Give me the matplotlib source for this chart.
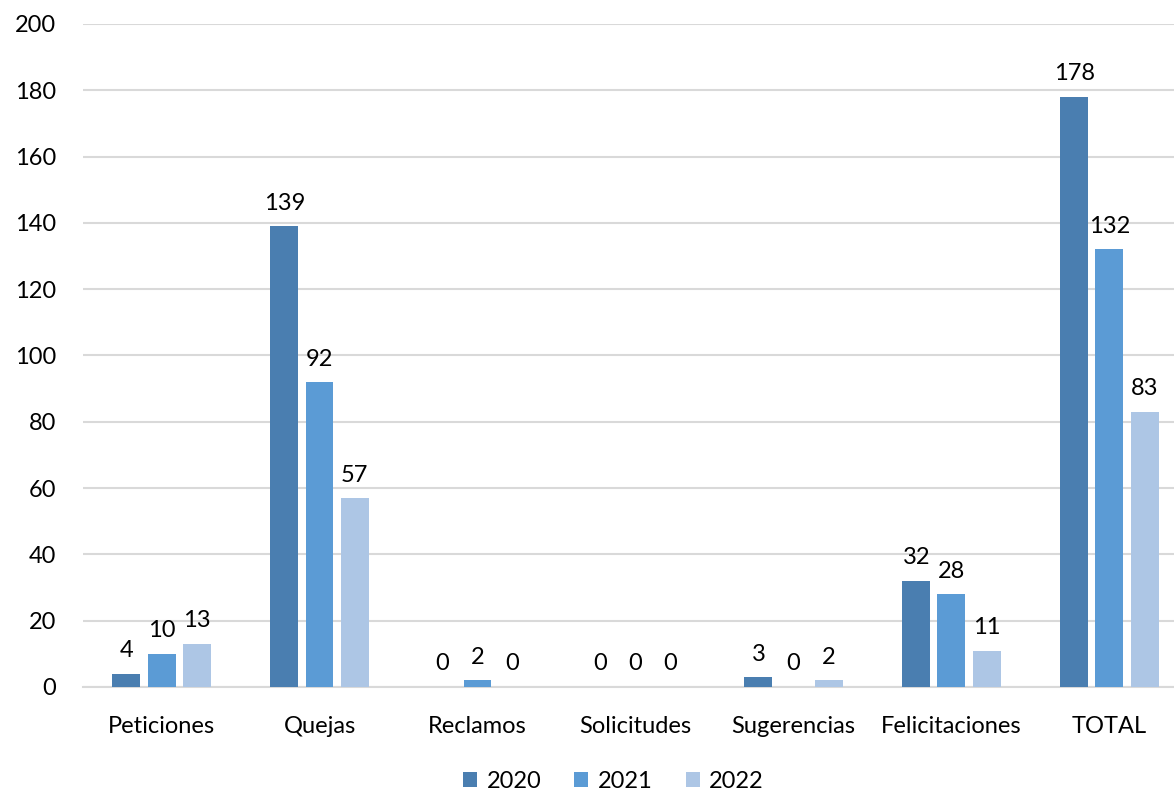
import numpy as np
import matplotlib.pyplot as plt

plt.rcParams['font.family'] = ['Lato', 'DejaVu Sans']

categorias = ['Peticiones', 'Quejas', 'Reclamos', 'Solicitudes', 'Sugerencias', 'Felicitaciones', 'TOTAL']
anios = ['2020', '2021', '2022']
v2020 = [4, 139, 0, 0, 3, 32, 178]
v2021 = [10, 92, 2, 0, 0, 28, 132]
v2022 = [13, 57, 0, 0, 2, 11, 83]
colores = ['#4A7EB0', '#5B9BD5', '#ADC6E5']

fig = plt.figure(figsize=(11.74, 7.92), dpi=100)
# el area de graficos sale un poco por la derecha, como en la imagen original
ax = fig.add_axes([0.0703, 0.1326, 0.942, 0.8371])

x = np.arange(len(categorias))
ancho = 0.177
paso = 0.222
for i, (serie, nombre) in enumerate(zip([v2020, v2021, v2022], anios)):
    pos = x + (i - 1) * paso
    ax.bar(pos, serie, width=ancho, color=colores[i], label=nombre, zorder=3)
    for p, v in zip(pos, serie):
        ax.annotate(str(v), (p, v), xytext=(0, 9), textcoords='offset points',
                    ha='center', va='bottom', fontsize=17)

ax.set_xlim(-0.5, len(categorias) - 0.5)
ax.set_ylim(0, 200)
ax.set_yticks(range(0, 201, 20))
ax.set_xticks(x)
ax.set_xticklabels(categorias)
ax.tick_params(axis='both', length=0, labelsize=17)
ax.tick_params(axis='x', pad=21)
ax.tick_params(axis='y', pad=19)
ax.grid(axis='y', color='#D9D9D9', linewidth=1.5, zorder=0)
for s in ['top', 'right', 'left']:
    ax.spines[s].set_visible(False)
ax.spines['bottom'].set_color('#D9D9D9')
ax.spines['bottom'].set_linewidth(1.5)

ax.legend(loc='upper center', bbox_to_anchor=(0.48, -0.094), ncol=3, frameon=False,
          fontsize=17, handlelength=0.6, handleheight=0.6, handletextpad=0.4, columnspacing=1.4)

fig.savefig('out.png', dpi=100)
